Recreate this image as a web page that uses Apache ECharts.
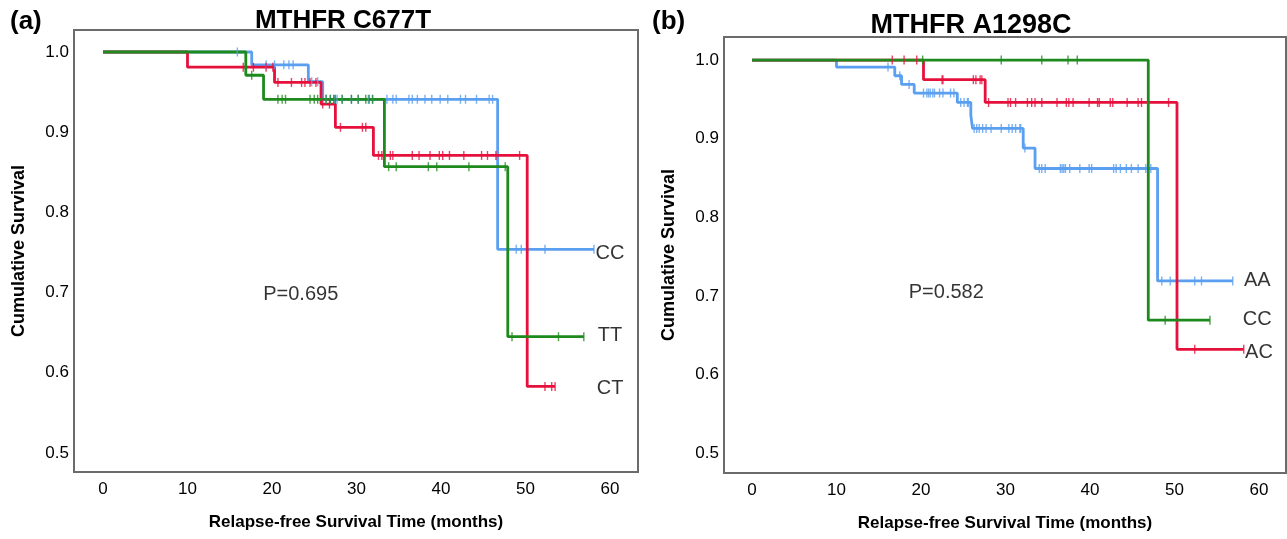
<!DOCTYPE html>
<html>
<head>
<meta charset="utf-8">
<script src="https://cdn.jsdelivr.net/npm/echarts@6/dist/echarts.min.js"></script>
<style>
html,body{margin:0;padding:0;background:#fff;}
#chart{width:1287px;height:539px;}
</style>
</head>
<body>
<div id="chart"></div>
<script>
// ---------- DATA ----------
const panelTitles = ['MTHFR C677T', 'MTHFR A1298C'];
const panelLetters = ['(a)', '(b)'];
const pValues = ['P=0.695', 'P=0.582'];
const xTickValues = [0, 10, 20, 30, 40, 50, 60];
const yTickValues = [0.5, 0.6, 0.7, 0.8, 0.9, 1.0];

// Panel (a) MTHFR C677T : event times (months) and survival after each step
const a_CC_t = [0, 17.6, 24.3, 26.0, 46.7, 58.1];
const a_CC_s = [1.0, 0.984, 0.963, 0.941, 0.754, 0.754];
const a_CC_cens = [15.9, 19.3, 20.3, 21.4, 22.0, 22.5, 24.7, 25.4, 26.4, 26.9, 27.4, 27.7, 28.3, 29.4, 30.2, 31.4, 31.9, 33.6, 34.3, 34.7, 36.2, 36.6, 37.2, 38.1, 38.9, 39.9, 40.8, 42.3, 42.9, 44.2, 45.7, 46.1, 48.9, 49.5, 52.3, 58.1];

const a_CT_t = [0, 10.0, 20.3, 25.8, 27.5, 32.0, 50.2, 53.5];
const a_CT_s = [1.0, 0.981, 0.962, 0.935, 0.906, 0.871, 0.583, 0.583];
const a_CT_cens = [16.6, 17.8, 19.3, 20.1, 20.7, 22.3, 23.5, 23.9, 24.5, 25.2, 26.0, 26.8, 28.1, 30.7, 31.1, 32.6, 33.0, 34.0, 34.3, 36.6, 37.4, 38.7, 39.8, 40.2, 41.0, 42.7, 44.8, 45.5, 46.5, 49.3, 52.3, 53.1, 53.5];

const a_TT_t = [0, 16.9, 19.0, 33.3, 47.9, 56.9];
const a_TT_s = [1.0, 0.971, 0.941, 0.857, 0.645, 0.645];
const a_TT_cens = [17.6, 20.7, 21.2, 21.6, 24.5, 25.0, 25.4, 26.4, 26.9, 27.3, 27.5, 28.3, 29.4, 30.2, 31.1, 31.5, 31.9, 33.8, 34.7, 38.5, 39.5, 43.3, 47.6, 48.4, 53.9, 56.9];

// Panel (b) MTHFR A1298C
const b_AA_t = [0, 10.0, 16.9, 17.7, 19.2, 24.3, 25.9, 26.1, 32.1, 33.5, 48.0, 56.9];
const b_AA_s = [1.0, 0.991, 0.980, 0.969, 0.958, 0.946, 0.930, 0.913, 0.888, 0.862, 0.719, 0.719];
const b_AA_cens = [16.1, 17.5, 18.6, 20.3, 20.7, 20.9, 21.1, 21.4, 21.6, 22.2, 22.6, 23.5, 23.9, 24.7, 25.1, 25.5, 25.6, 26.3, 26.6, 26.9, 27.3, 27.7, 28.3, 29.5, 30.4, 30.8, 31.2, 31.7, 31.8, 32.3, 34.0, 34.3, 34.7, 36.5, 36.7, 36.9, 37.1, 37.6, 38.8, 39.9, 40.2, 42.8, 43.1, 43.6, 44.3, 44.9, 45.7, 46.6, 47.2, 48.5, 49.5, 52.4, 53.2, 56.9];

const b_AC_t = [0, 20.3, 27.6, 50.3, 58.2];
const b_AC_s = [1.0, 0.975, 0.946, 0.632, 0.632];
const b_AC_cens = [16.6, 18.0, 19.5, 22.5, 22.6, 26.2, 26.5, 27.0, 27.2, 28.0, 30.3, 30.6, 31.2, 32.6, 33.1, 33.5, 34.3, 36.1, 37.2, 37.5, 38.0, 39.9, 40.9, 41.1, 42.4, 42.7, 44.4, 45.7, 46.1, 49.3, 52.4, 58.2];

const b_CC_t = [0, 46.9, 54.2];
const b_CC_s = [1.0, 0.669, 0.669];
const b_CC_cens = [20.2, 29.5, 34.3, 37.4, 38.5, 48.9, 54.2];

// ---------- STYLE / LAYOUT ----------
const COLORS = { blue: '#5a9ff0', red: '#e6103c', green: '#1e8a1e' };
const FONT = '"Liberation Sans", Arial, sans-serif';

// annotation anchors (data units)
const groupLabels = [
  [{ n: 'CC', x: 60, y: 0.749 }, { n: 'TT', x: 60, y: 0.647 }, { n: 'CT', x: 60, y: 0.581 }],
  [{ n: 'AA', x: 59.8, y: 0.719 }, { n: 'CC', x: 59.8, y: 0.670 }, { n: 'AC', x: 60, y: 0.628 }]
];
const pAnchors = [{ x: 23.4, y: 0.698 }, { x: 23.0, y: 0.704 }];

function zip(t, s) { return t.map((v, i) => [v, s[i]]); }
function levelAt(t, s, c) {
  let v = s[0];
  for (let i = 0; i < t.length; i++) { if (t[i] <= c) v = s[i]; }
  return v;
}

const curves = [
  [ {t: a_CC_t, s: a_CC_s, c: a_CC_cens, col: COLORS.blue},
    {t: a_CT_t, s: a_CT_s, c: a_CT_cens, col: COLORS.red},
    {t: a_TT_t, s: a_TT_s, c: a_TT_cens, col: COLORS.green} ],
  [ {t: b_AA_t, s: b_AA_s, c: b_AA_cens, col: COLORS.blue},
    {t: b_AC_t, s: b_AC_s, c: b_AC_cens, col: COLORS.red},
    {t: b_CC_t, s: b_CC_s, c: b_CC_cens, col: COLORS.green} ]
];

const grids = [
  { left: 74, top: 30, width: 564, height: 442 },
  { left: 724, top: 37, width: 562, height: 436 }
];
const xRanges = [[-3.43, 63.31], [-3.31, 63.2]];
const yRanges = [[0.4763, 1.0274], [0.4746, 1.0293]];

const textLabel = { show: true, position: 'inside', formatter: p => p.name,
  color: '#000', fontFamily: FONT, fontSize: 20, textBorderWidth: 0 };

const series = [];
curves.forEach((panel, gi) => {
  panel.forEach(cv => {
    series.push({
      type: 'line', xAxisIndex: gi, yAxisIndex: gi, step: 'end',
      data: zip(cv.t, cv.s), symbol: 'none', silent: true,
      lineStyle: { color: cv.col, width: 2.8 }, z: 3
    });
    series.push({
      type: 'scatter', xAxisIndex: gi, yAxisIndex: gi, silent: true,
      data: cv.c.map(c => [c, levelAt(cv.t, cv.s, c)]),
      symbol: 'rect', symbolSize: [1.4, 9],
      itemStyle: { color: cv.col }, z: 4
    });
  });
  series.push({
    type: 'scatter', xAxisIndex: gi, yAxisIndex: gi, silent: true,
    data: groupLabels[gi].map(l => ({ value: [l.x, l.y], name: l.n })),
    symbolSize: 0, itemStyle: { color: '#000' },
    label: textLabel, z: 5
  });
  series.push({
    type: 'scatter', xAxisIndex: gi, yAxisIndex: gi, silent: true,
    data: [{ value: [pAnchors[gi].x, pAnchors[gi].y], name: pValues[gi] }],
    symbolSize: 0, itemStyle: { color: '#000' },
    label: textLabel, z: 5
  });
});

const titleStyle = { fontFamily: FONT, fontWeight: 'bold', fontSize: 26, color: '#000' };
const option = {
  animation: false,
  backgroundColor: '#fff',
  title: [
    { text: panelLetters[0], left: 5, top: 4, textStyle: titleStyle },
    { text: panelTitles[0], left: 338, top: 3, textAlign: 'center', textStyle: titleStyle },
    { text: panelLetters[1], left: 647, top: 4, textStyle: titleStyle },
    { text: panelTitles[1], left: 966, top: 7, textAlign: 'center', textStyle: Object.assign({}, titleStyle, { fontSize: 27 }) }
  ],
  grid: grids.map(g => Object.assign({ show: true, borderColor: '#6b6b6b', borderWidth: 2, backgroundColor: '#fff', containLabel: false }, g)),
  xAxis: [0, 1].map(gi => ({
    type: 'value', gridIndex: gi, min: xRanges[gi][0], max: xRanges[gi][1],
    name: 'Relapse-free Survival Time (months)', nameLocation: 'middle', nameGap: 42,
    nameTextStyle: { fontFamily: FONT, fontWeight: 'bold', fontSize: 17, color: '#000' },
    axisLine: { show: false }, axisTick: { show: false }, splitLine: { show: false },
    axisLabel: { customValues: xTickValues, fontFamily: FONT, fontSize: 17, color: '#000', margin: 9, formatter: v => String(Math.round(v)) }
  })),
  yAxis: [0, 1].map(gi => ({
    type: 'value', gridIndex: gi, min: yRanges[gi][0], max: yRanges[gi][1],
    name: 'Cumulative Survival', nameLocation: 'middle', nameGap: 46,
    nameTextStyle: { fontFamily: FONT, fontWeight: 'bold', fontSize: 18, color: '#000' },
    axisLine: { show: false }, axisTick: { show: false }, splitLine: { show: false },
    axisLabel: { customValues: yTickValues, fontFamily: FONT, fontSize: 17, color: '#000', margin: 5, formatter: v => v.toFixed(1) }
  })),
  series: series
};

const chart = echarts.init(document.getElementById('chart'), null, { renderer: 'canvas' });
chart.setOption(option);
</script>
</body>
</html>
